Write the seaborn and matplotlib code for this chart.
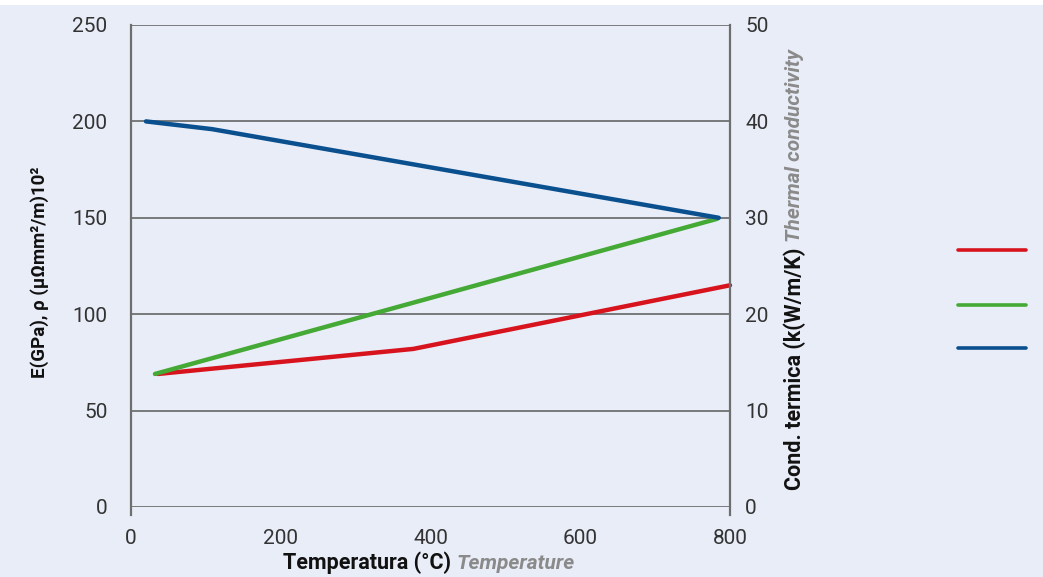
import matplotlib
matplotlib.use("Agg")
import matplotlib.pyplot as plt
from matplotlib.lines import Line2D
from matplotlib.patches import Rectangle
import seaborn as sns
import pandas as pd

# Series (temperature in °C)
red_temp = [36, 377, 800]
red_vals = [69, 82, 115]              # left axis
green_temp = [32, 783]
green_vals = [69, 149.5]              # left axis
blue_temp = [20, 108, 785]
blue_vals = [40.0, 39.2, 30.0]        # right axis, thermal conductivity

x_ticks = [0, 200, 400, 600, 800]
left_ticks = [0, 50, 100, 150, 200, 250]
right_ticks = [0, 10, 20, 30, 40, 50]

RED = "#D7141E"
GREEN = "#45A935"
BLUE = "#0A4F8E"
BG = "#E9EDF8"
GRID = "#5A5A5A"
TICK_COLOR = "#333333"

sns.set_theme(style="white")
plt.rcParams["font.family"] = ["Roboto", "DejaVu Sans"]

fig = plt.figure(figsize=(10.43, 5.77), dpi=100, facecolor=BG)
fig.add_artist(Rectangle((0, 1 - 5 / 577), 1, 5 / 577, transform=fig.transFigure,
                         facecolor="white", edgecolor="none", zorder=0))

ax = fig.add_axes([131 / 1043, 70 / 577, 599 / 1043, 482 / 577])
ax.set_facecolor(BG)
ax2 = ax.twinx()

df_red = pd.DataFrame({"t": red_temp, "v": red_vals})
df_green = pd.DataFrame({"t": green_temp, "v": green_vals})
df_blue = pd.DataFrame({"t": blue_temp, "v": blue_vals})

lw = 3.2
sns.lineplot(data=df_red, x="t", y="v", ax=ax, color=RED, lw=lw, sort=False,
             solid_capstyle="round", clip_on=False, zorder=4)
sns.lineplot(data=df_green, x="t", y="v", ax=ax, color=GREEN, lw=lw, sort=False,
             solid_capstyle="round", clip_on=False, zorder=5)
sns.lineplot(data=df_blue, x="t", y="v", ax=ax2, color=BLUE, lw=lw, sort=False,
             solid_capstyle="round", clip_on=False, zorder=5)

ax.set_xlim(0, 800)
ax.set_ylim(0, 250)
ax2.set_ylim(0, 50)
ax.set_xticks(x_ticks)
ax.set_yticks(left_ticks)
ax2.set_yticks(right_ticks)
ax.set_xlabel("")
ax.set_ylabel("")
ax2.set_ylabel("")

# horizontal grid across the plot
for v in left_ticks:
    ax.axhline(v, color=GRID, lw=1.1, zorder=1)

for a in (ax, ax2):
    for s in a.spines.values():
        s.set_visible(False)
ax.spines["left"].set_visible(True)
ax.spines["left"].set_color("#6E6E6E")
ax.spines["left"].set_linewidth(1.6)
ax.spines["left"].set_bounds(-4, 250)
ax2.spines["right"].set_visible(True)
ax2.spines["right"].set_color("#6E6E6E")
ax2.spines["right"].set_linewidth(1.6)
ax2.spines["right"].set_bounds(-0.8, 50)

ax.tick_params(axis="x", length=7, width=1.1, color="#6E6E6E", pad=9,
               labelsize=15, labelcolor=TICK_COLOR, direction="out")
ax.tick_params(axis="y", length=0, pad=17, labelsize=15, labelcolor=TICK_COLOR)
ax2.tick_params(axis="y", length=0, pad=11, labelsize=15, labelcolor=TICK_COLOR)

# axis titles: bold Italian part followed by grey italic English part
fig.canvas.draw()
renderer = fig.canvas.get_renderer()

t1 = fig.text(283 / 1043, 8 / 577, "Temperatura (°C)", fontsize=15.5, fontweight="bold",
              color="#111111", ha="left", va="baseline")
bb = t1.get_window_extent(renderer)
fig.text((bb.x1 + 6) / 1043, 8 / 577, "Temperature", fontsize=15, fontstyle="italic",
         fontweight="bold", color="#8A8A8A", ha="left", va="baseline")

fig.text(40 / 1043, 1 - 272 / 577, "E(GPa), ρ (μΩmm²/m)10²", fontsize=13.5,
         fontweight="bold", color="#111111", rotation=90, ha="center", va="center")

t3 = fig.text(795 / 1043, 1 - 490 / 577, "Cond. termica (k(W/m/K)", fontsize=15.5,
              fontweight="bold", color="#111111", rotation=90, ha="center", va="bottom")
bb3 = t3.get_window_extent(renderer)
fig.text(795 / 1043, (bb3.y1 + 6) / 577, "Thermal conductivity", fontsize=15,
         fontstyle="italic", fontweight="bold", color="#8A8A8A", rotation=90,
         ha="center", va="bottom")

# key lines on the right
for y_px, c in [(250, RED), (305, GREEN), (348, BLUE)]:
    fig.add_artist(Line2D([958 / 1043, 1026 / 1043], [1 - y_px / 577, 1 - y_px / 577],
                          transform=fig.transFigure, color=c, lw=2.6))

fig.savefig("out.png", dpi=100, facecolor=BG)
